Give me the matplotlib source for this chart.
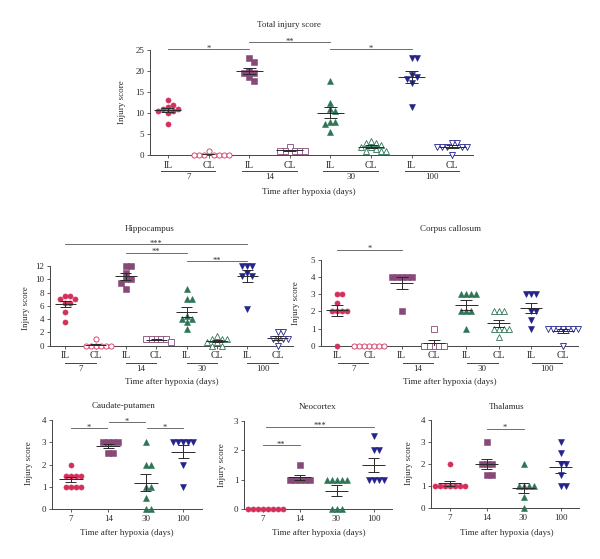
import numpy as np
import matplotlib.pyplot as plt
from matplotlib import transforms

plt.rcParams['font.family'] = ['Liberation Serif', 'DejaVu Serif']
plt.rcParams['font.size'] = 6.5

# ---- data ----
days = ['7', '14', '30', '100']
sides = ['IL', 'CL']

total_IL = [[13, 12, 11.5, 11, 11, 10.5, 10.5, 10, 7.5],
            [23, 22, 20, 19.5, 19.5, 18.5, 17.5],
            [17.5, 12.5, 11, 10.5, 8, 8, 7.5, 5.5],
            [23, 23, 19, 18.5, 18, 17, 11.5]]
total_CL = [[1, 0, 0, 0, 0, 0, 0, 0],
            [2, 1, 1, 1, 1, 1],
            [3.5, 3, 3, 2.5, 2, 2, 1.5, 1, 1, 1],
            [3, 3, 2, 2, 2, 2, 2, 0]]

hippo_IL = [[7.5, 7.5, 7, 7, 6.5, 6.5, 5, 3.5],
            [12, 12, 11, 10, 10, 9.5, 8.5],
            [8.5, 7, 7, 4.5, 4, 4, 3.5, 2.5],
            [12, 12, 12, 11, 10.5, 10.5, 5.5]]
hippo_CL = [[1, 0, 0, 0, 0, 0, 0],
            [1, 1, 1, 1, 1, 0.5],
            [1.5, 1, 1, 1, 0.5, 0.5, 0, 0],
            [2, 2, 1, 1, 1, 1, 0]]

cc_IL = [[3, 3, 2.5, 2, 2, 2, 2, 0],
         [4, 4, 4, 4, 4, 2],
         [3, 3, 3, 3, 2, 2, 2, 1],
         [3, 3, 3, 2, 2, 1.5, 1]]
cc_CL = [[0, 0, 0, 0, 0, 0, 0],
         [1, 0, 0, 0, 0, 0],
         [2, 2, 2, 1, 1, 1, 1, 0.5],
         [1, 1, 1, 1, 1, 1, 1, 0]]

caudate = [[2, 1.5, 1.5, 1.5, 1.5, 1, 1, 1, 1],
           [3, 3, 3, 3, 2.5, 2.5],
           [3, 2, 2, 1, 1, 0.5, 0, 0],
           [3, 3, 3, 3, 3, 2, 1]]
neocortex = [[0, 0, 0, 0, 0, 0, 0, 0],
             [1.5, 1, 1, 1, 1, 1],
             [1, 1, 1, 1, 1, 0, 0, 0],
             [2.5, 2, 2, 1, 1, 1, 1]]
thalamus = [[2, 1, 1, 1, 1, 1, 1, 1],
            [3, 2, 2, 2, 1.5, 1.5],
            [2, 1, 1, 1, 1, 0.5, 0],
            [3, 2.5, 2, 2, 1.5, 1, 1]]

colors = ['#d42f5a', '#874a78', '#2e7556', '#23238c']
markers = ['o', 's', '^', 'v']
ink = '#2a2a2a'

W, H = 600, 559
fig = plt.figure(figsize=(6, 5.59), dpi=100)


def box(x0, x1, y0, y1):
    return [x0 / W, 1 - y1 / H, (x1 - x0) / W, (y1 - y0) / H]


def ftext(x, y, s, rot=0, size=6.5):
    fig.text(x / W, 1 - y / H, s, ha='center', va='center', rotation=rot,
             fontsize=size, color=ink)


def setup(ax, xlim, ylim, yticks):
    ax.set_xlim(*xlim)
    ax.set_ylim(*ylim)
    ax.set_yticks(yticks)
    for s in ['top', 'right']:
        ax.spines[s].set_visible(False)
    for s in ['left', 'bottom']:
        ax.spines[s].set_linewidth(0.7)
        ax.spines[s].set_color('#444444')
    ax.tick_params(direction='out', length=2.5, width=0.6, color='#444444',
                   labelsize=6.5, labelcolor=ink, pad=1.5)
    ax.patch.set_alpha(0)


def swarm(ax, x, vals, d=5.0):
    # greedy beeswarm in pixel space: nearest free slot to the centre line
    p0 = ax.transData.transform((0, 0))
    p1 = ax.transData.transform((1, 1))
    sx, sy = p1[0] - p0[0], p1[1] - p0[1]
    placed = []
    xs, ys = [], []
    for v in sorted(vals, reverse=True):
        yp = v * sy
        for k in [0, 1, -1, 2, -2, 3, -3, 4, -4, 5, -5]:
            xp = k * d
            if all((xp - a) ** 2 + (yp - b) ** 2 >= (0.95 * d) ** 2 for a, b in placed):
                break
        placed.append((xp, yp))
        xs.append(x + xp / sx)
        ys.append(v)
    return xs, ys


def group(ax, x, vals, color, marker, filled, halfw=0.33, capw=0.16, ms=3.7):
    xs, ys = swarm(ax, x, vals)
    if filled:
        ax.plot(xs, ys, linestyle='none', marker=marker, ms=ms, mfc=color,
                mec=color, mew=0.4, clip_on=False, zorder=3)
    else:
        ax.plot(xs, ys, linestyle='none', marker=marker, ms=ms, mfc='white',
                mec=color, mew=0.6, clip_on=False, zorder=3)
    v = np.array(vals, dtype=float)
    m = v.mean()
    sem = v.std(ddof=1) / np.sqrt(len(v))
    kw = dict(color=ink, lw=0.7, zorder=4, solid_capstyle='butt')
    ax.plot([x - halfw, x + halfw], [m, m], **kw)
    ax.plot([x, x], [m - sem, m + sem], **kw)
    ax.plot([x - capw, x + capw], [m - sem, m - sem], **kw)
    ax.plot([x - capw, x + capw], [m + sem, m + sem], **kw)


def sig(ax, x0, x1, y, txt):
    ax.plot([x0, x1], [y, y], color='#555555', lw=0.6, clip_on=False)
    tr = transforms.offset_copy(ax.transData, fig=fig, y=-1.0, units='points')
    ax.text((x0 + x1) / 2, y, txt, ha='center', va='baseline', fontsize=6,
            color=ink, transform=tr, clip_on=False)


def day_labels(ax, halfw, dline, dnum):
    tr = ax.get_xaxis_transform()
    h = ax.bbox.height
    for g, d in enumerate(days):
        c = 2 * g + 0.5
        ax.plot([c - halfw, c + halfw], [-dline / h, -dline / h], color='#444444',
                lw=0.7, transform=tr, clip_on=False)
        ax.text(c, -dnum / h, d, ha='center', va='center', fontsize=6.5,
                color=ink, transform=tr)


def paired_panel(rect, IL, CL, xlim, ylim, yticks, halfw, dline, dnum,
                 mhalf=0.33, cap=0.16):
    ax = fig.add_axes(rect)
    setup(ax, xlim, ylim, yticks)
    ax.set_xticks(range(8))
    ax.set_xticklabels(sides * 4, fontsize=7)
    for g in range(4):
        group(ax, 2 * g, IL[g], colors[g], markers[g], True, mhalf, cap)
        group(ax, 2 * g + 1, CL[g], colors[g], markers[g], False, mhalf, cap)
    day_labels(ax, halfw, dline, dnum)
    return ax


def single_panel(rect, vals, ylim, yticks):
    ax = fig.add_axes(rect)
    setup(ax, (-0.5, 3.5), ylim, yticks)
    ax.set_xticks(range(4))
    ax.set_xticklabels(days)
    for g in range(4):
        group(ax, g, vals[g], colors[g], markers[g], True, 0.32, 0.15)
    return ax


# ---- top: total injury score ----
ax = paired_panel(box(150, 473, 49.7, 155.3), total_IL, total_CL,
                  (-0.44, 7.51), (0, 25), [0, 5, 10, 15, 20, 25], 0.67, 16, 22)
sig(ax, 0, 2, 25.1, '*')
sig(ax, 2, 4, 26.8, '**')
sig(ax, 4, 6, 25.1, '*')
ftext(289, 25, 'Total injury score')
ftext(309, 192, 'Time after hypoxia (days)')
ftext(122, 102, 'Injury score', rot=90)

# ---- middle left: hippocampus ----
ax = paired_panel(box(50, 293, 266, 345.7), hippo_IL, hippo_CL,
                  (-0.5, 7.5), (0, 12), [0, 2, 4, 6, 8, 10, 12], 0.5, 17, 23.5,
                  0.35, 0.18)
sig(ax, 0, 6, 15.3, '***')
sig(ax, 2, 4, 14.0, '**')
sig(ax, 4, 6, 12.75, '**')
ftext(150, 229, 'Hippocampus')
ftext(172, 382, 'Time after hypoxia (days)')
ftext(26, 308, 'Injury score', rot=90)

# ---- middle right: corpus callosum ----
ax = paired_panel(box(321, 578, 260, 345.7), cc_IL, cc_CL,
                  (-0.5, 7.46), (0, 5), [0, 1, 2, 3, 4, 5], 0.47, 17.3, 23.5,
                  0.35, 0.18)
sig(ax, 0, 2, 5.6, '*')
ftext(450, 229, 'Corpus callosum')
ftext(450, 382, 'Time after hypoxia (days)')
ftext(296, 303, 'Injury score', rot=90)

# ---- bottom row ----
ax = single_panel(box(52, 202, 420, 509), caudate, (0, 4), [0, 1, 2, 3, 4])
sig(ax, 0, 0.97, 3.64, '*')
sig(ax, 1.03, 1.97, 3.91, '*')
sig(ax, 2.03, 3, 3.64, '*')
ftext(124, 406, 'Caudate-putamen')
ftext(127, 533, 'Time after hypoxia (days)')
ftext(29, 463, 'Injury score', rot=90)

ax = single_panel(box(244, 392, 421, 509), neocortex, (0, 3), [0, 1, 2, 3])
sig(ax, 0, 1, 2.18, '**')
sig(ax, 0.1, 3, 2.8, '***')
ftext(318, 407, 'Neocortex')
ftext(319, 533, 'Time after hypoxia (days)')
ftext(222, 465, 'Injury score', rot=90)

ax = single_panel(box(431, 579, 420, 508), thalamus, (0, 4), [0, 1, 2, 3, 4])
sig(ax, 1, 2, 3.6, '*')
ftext(507, 407, 'Thalamus')
ftext(507, 533, 'Time after hypoxia (days)')
ftext(409, 463, 'Injury score', rot=90)

fig.savefig('out.png', dpi=100)
